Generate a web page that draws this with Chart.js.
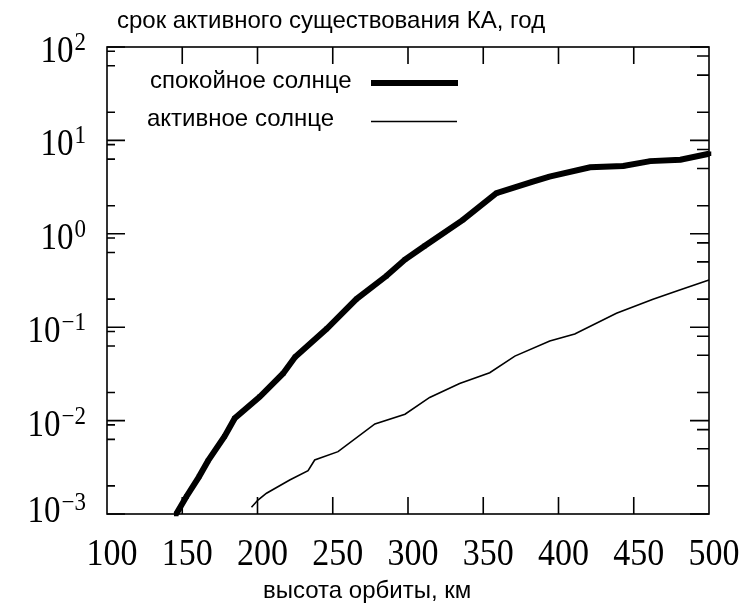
<!DOCTYPE html>
<html>
<head>
<meta charset="utf-8">
<script src="https://cdn.jsdelivr.net/npm/chart.js@4.4.1/dist/chart.umd.min.js"></script>
<style>
  html, body { margin: 0; padding: 0; background: #fff; }
  #wrap { position: relative; width: 746px; height: 603px; }
</style>
</head>
<body>
<div id="wrap"><canvas id="lifeChart" width="746" height="603"></canvas></div>
<script>
// orbit altitude, km -> satellite lifetime, years
const altQuiet  = [146, 152.7, 161.1, 167.1, 178.2, 184.9, 201.5, 217, 225, 246, 265.7, 285.6, 298, 311, 336.5, 358.7, 383, 394, 421, 443, 461, 481, 500];
const lifeQuiet = [0.001, 0.00153, 0.0025, 0.0037, 0.0068, 0.0106, 0.018, 0.032, 0.048, 0.096, 0.2, 0.353, 0.53, 0.74, 1.41, 2.72, 3.62, 4.09, 5.15, 5.32, 6.0, 6.2, 7.2];

const altActive  = [196, 200.3, 206, 221.4, 233.6, 238, 253.5, 278, 298, 314.4, 334.3, 354.3, 371, 394.2, 410.8, 438.5, 462.8, 480.5, 500];
const lifeActive = [0.00118, 0.00141, 0.00167, 0.00231, 0.00291, 0.00379, 0.00465, 0.0092, 0.0117, 0.0177, 0.025, 0.0325, 0.049, 0.071, 0.0846, 0.141, 0.199, 0.25, 0.32];

const seriesNames = ["спокойное солнце", "активное солнце"];
const yTitle = "срок активного существования КА, год";
const xTitle = "высота орбиты, км";

const xTicks = [100, 150, 200, 250, 300, 350, 400, 450, 500];
const yDecades = [0.001, 0.01, 0.1, 1, 10, 100];
const yExponents = ["−3", "−2", "−1", "0", "1", "2"];
const leftMinor = [0.9, 0.63, 0.2];
const rightMinor = [0.8, 0.5, 0.2];

const SERIF = '"Liberation Serif", "DejaVu Serif", serif';
const SANS = '"Liberation Sans", Arial, sans-serif';

const toPts = (xs, ys) => xs.map((x, i) => ({ x, y: ys[i] }));

// frame, inward ticks, labels and legend
const decor = {
  id: "decor",
  afterDraw(chart) {
    const { ctx, chartArea: a, scales } = chart;
    const sx = scales.x, sy = scales.y;
    ctx.save();
    ctx.strokeStyle = "#000";
    ctx.fillStyle = "#000";
    ctx.lineWidth = 1.6;
    ctx.strokeRect(a.left, a.top, a.right - a.left, a.bottom - a.top);

    ctx.beginPath();
    xTicks.slice(1, -1).forEach((v) => {
      const px = sx.getPixelForValue(v);
      ctx.moveTo(px, a.bottom); ctx.lineTo(px, a.bottom - 17);
      ctx.moveTo(px, a.top);    ctx.lineTo(px, a.top + 17);
    });
    yDecades.forEach((d) => {
      const py = sy.getPixelForValue(d);
      ctx.moveTo(a.left, py);  ctx.lineTo(a.left + 18, py);
      ctx.moveTo(a.right, py); ctx.lineTo(a.right - 19, py);
      if (d > 0.001) {
        leftMinor.forEach((f) => {
          const p = sy.getPixelForValue(d * f);
          ctx.moveTo(a.left, p); ctx.lineTo(a.left + 8, p);
        });
        rightMinor.forEach((f) => {
          const p = sy.getPixelForValue(d * f);
          ctx.moveTo(a.right, p); ctx.lineTo(a.right - 12, p);
        });
      }
    });
    ctx.stroke();

    // x tick labels (slightly tall serif, like the scan)
    ctx.textAlign = "center";
    ctx.textBaseline = "alphabetic";
    ctx.font = "34px " + SERIF;
    xTicks.forEach((v) => {
      const px = sx.getPixelForValue(v) + 5;
      ctx.save();
      ctx.translate(px, 565);
      ctx.scale(1, 1.1);
      ctx.fillText(String(v), 0, 0);
      ctx.restore();
    });

    // y tick labels 10^n
    yDecades.forEach((d, i) => {
      const py = sy.getPixelForValue(d);
      const base = i === 0 ? py + 8 : py + 15;
      const right = 86;
      ctx.textAlign = "right";
      ctx.font = "23px " + SERIF;
      const ew = ctx.measureText(yExponents[i]).width;
      ctx.save();
      ctx.translate(right, base - 12);
      ctx.scale(1, 1.1);
      ctx.fillText(yExponents[i], 0, 0);
      ctx.restore();
      ctx.font = "33px " + SERIF;
      ctx.save();
      ctx.translate(right - ew - 1, base);
      ctx.scale(1, 1.15);
      ctx.fillText("10", 0, 0);
      ctx.restore();
    });

    // axis titles
    ctx.font = "24px " + SANS;
    ctx.textAlign = "left";
    ctx.fillText(yTitle, 117, 28);
    ctx.fillText(xTitle, 263, 598);

    // legend
    ctx.fillText(seriesNames[0], 150, 88);
    ctx.fillText(seriesNames[1], 147, 126);
    ctx.lineWidth = 6;
    ctx.beginPath(); ctx.moveTo(371, 83); ctx.lineTo(458, 83); ctx.stroke();
    ctx.lineWidth = 1.5;
    ctx.beginPath(); ctx.moveTo(371, 121.5); ctx.lineTo(457, 121.5); ctx.stroke();
    ctx.restore();
  }
};

new Chart(document.getElementById("lifeChart"), {
  type: "line",
  data: {
    datasets: [
      {
        label: seriesNames[0],
        data: toPts(altQuiet, lifeQuiet),
        borderColor: "#000",
        backgroundColor: "#000",
        borderWidth: 6,
        pointStyle: "rect",
        pointRadius: 3.2,
        pointBorderWidth: 0,
        tension: 0,
        clip: 4
      },
      {
        label: seriesNames[1],
        data: toPts(altActive, lifeActive),
        borderColor: "#000",
        borderWidth: 1.6,
        pointRadius: 0,
        tension: 0,
        clip: 2
      }
    ]
  },
  options: {
    responsive: false,
    animation: false,
    devicePixelRatio: 1,
    layout: { padding: { left: 107, top: 47, right: 37, bottom: 89 } },
    plugins: { legend: { display: false }, tooltip: { enabled: false } },
    scales: {
      x: { type: "linear", min: 100, max: 500, display: false },
      y: { type: "logarithmic", min: 0.001, max: 100, display: false }
    }
  },
  plugins: [decor]
});
</script>
</body>
</html>
